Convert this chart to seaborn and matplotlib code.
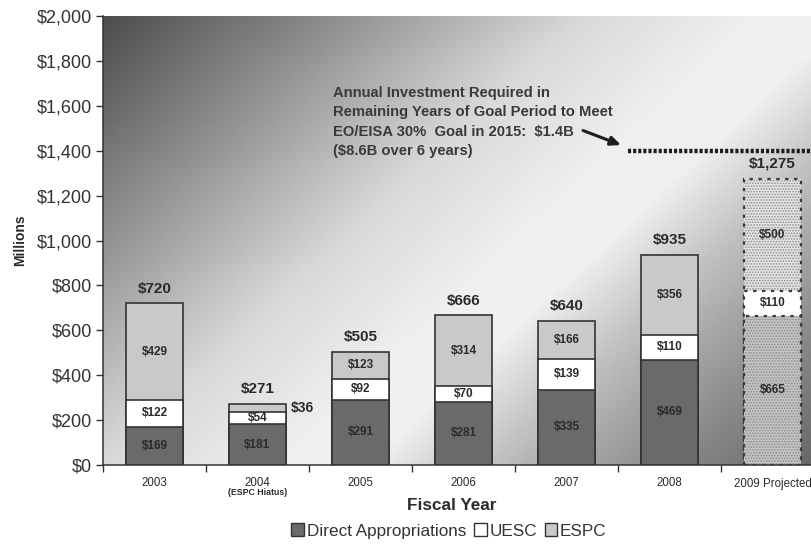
import numpy as np
import pandas as pd
import matplotlib
matplotlib.use("Agg")
import matplotlib.pyplot as plt
import seaborn as sns
from matplotlib.patches import Patch
from matplotlib.colors import to_rgba
from matplotlib.ticker import FuncFormatter
from matplotlib.transforms import blended_transform_factory

# Federal energy-efficiency investment by fiscal year ($ millions)
years = ["2003", "2004", "2005", "2006", "2007", "2008", "2009 Projected"]
direct = [169, 181, 291, 281, 335, 469, 665]
uesc = [122, 54, 92, 70, 139, 110, 110]
espc = [429, 36, 123, 314, 166, 356, 500]
totals = [720, 271, 505, 666, 640, 935, 1275]
goal = 1400
yticks = list(range(0, 2001, 200))
series_names = ["Direct Appropriations", "UESC", "ESPC"]

c_direct = "#6a6a6a"
c_uesc = "#ffffff"
c_espc = "#c9c9c9"
edge = "#333333"
txt = "#2b2b2b"

sns.set_theme(style="white")
plt.rcParams["font.family"] = ["Liberation Sans", "DejaVu Sans"]
plt.rcParams["hatch.linewidth"] = 0.8

fig = plt.figure(figsize=(8.12, 5.46), dpi=100)
fig.patch.set_facecolor("white")
ax = fig.add_axes([103 / 812, 81 / 546, 721 / 812, 449 / 546])
ax.set_facecolor("none")

# diagonal two-way gray gradient behind the plot area
nx, ny = 400, 300
fx = np.linspace(0, 1, nx)[None, :]
fy = np.linspace(0, 1, ny)[:, None]
u = 0.6 * fx + 0.4 * fy
shade = np.interp(u, [0, 0.2, 0.4, 0.55, 0.62, 0.72, 0.8, 0.88, 1.0],
                  [0.30, 0.57, 0.85, 0.94, 0.94, 0.76, 0.64, 0.53, 0.40])
ax.imshow(shade, cmap="gray", vmin=0, vmax=1, extent=[0, 1, 0, 1],
          transform=ax.transAxes, aspect="auto", origin="upper",
          interpolation="bilinear", zorder=0)

df = pd.DataFrame({
    "year": years,
    "total": totals,
    "du": np.add(direct, uesc),
    "direct": direct,
})

# stacked look: draw the full total first, then overlay lower layers
for col, color in [("total", c_espc), ("du", c_uesc), ("direct", c_direct)]:
    sns.barplot(data=df, x="year", y=col, color=color, saturation=1,
                width=0.56, edgecolor=edge, linewidth=1.2, errorbar=None,
                ax=ax, zorder=2)

# projected year: dotted outlines and stippled fills
for cont, fc, hatch in zip(ax.containers,
                           ["#e4e4e4", "#ffffff", "#c4c4c4"],
                           ["......", None, "......"]):
    p = cont.patches[6]
    p.set_facecolor(fc)
    p.set_edgecolor("#3a3a3a")
    p.set_linestyle((0, (1.5, 2.5)))
    p.set_linewidth(1.6)
    if hatch:
        p.set_hatch(hatch)
        p._hatch_color = to_rgba("#8e8e8e")

seg_kw = dict(ha="center", va="center", fontsize=8.5, fontweight="bold",
              color=txt, zorder=5)
for i in range(len(years)):
    d, ue, es, tot = direct[i], uesc[i], espc[i], totals[i]
    ax.text(i, d / 2, f"\\${d}", **seg_kw)
    ax.text(i, d + ue / 2, f"\\${ue}", **seg_kw)
    if i == 1:
        ax.text(i + 0.44, d + ue + es / 2, f"\\${es}",
                ha="center", va="center", fontsize=10, fontweight="bold",
                color=txt, zorder=5)
    else:
        ax.text(i, d + ue + es / 2, f"\\${es}", **seg_kw)
    ax.text(i, tot + 35, f"\\${tot:,}", ha="center", va="bottom",
            fontsize=11, fontweight="bold", color=txt, zorder=5)

# goal line and its note
ax.hlines(goal, 4.6, 6.6, colors="#1e1e1e", linewidth=3.2,
          linestyles=(0, (0.7, 0.45)), zorder=4)
note = ("Annual Investment Required in\n"
        "Remaining Years of Goal Period to Meet\n"
        "EO/EISA 30%  Goal in 2015:  \\$1.4B\n"
        "(\\$8.6B over 6 years)")
ax.text(1.735, 1690, note, ha="left", va="top", fontsize=10.6,
        fontweight="bold", color="#3a3a3a", linespacing=1.5, zorder=5)
ax.annotate("", xy=(4.53, 1425), xytext=(4.16, 1490),
            arrowprops=dict(arrowstyle="-|>,head_length=0.5,head_width=0.22",
                            color="#1e1e1e", lw=2.2, shrinkA=0, shrinkB=0),
            zorder=5)

ax.set_xlim(-0.5, 6.5)
ax.set_ylim(0, 2000)
ax.set_yticks(yticks)
ax.yaxis.set_major_formatter(FuncFormatter(lambda v, _: f"\\${int(v):,}"))
ax.set_xticks(range(len(years)))
ax.set_xticklabels(years)
ax.set_xticks(np.arange(-0.5, len(years), 1), minor=True)
ax.tick_params(axis="x", which="major", length=0, pad=9, labelsize=8.3,
               labelcolor=txt)
ax.tick_params(axis="x", which="minor", length=5, width=1, color="#333333",
               direction="out", bottom=True)
ax.tick_params(axis="y", length=5, width=1, color="#333333", direction="out",
               left=True, pad=3, labelsize=13, labelcolor="#333333")
ax.set_xlabel("")
ax.set_ylabel("")
for side in ["top", "right"]:
    ax.spines[side].set_visible(False)
for side in ["left", "bottom"]:
    ax.spines[side].set_color("#333333")
    ax.spines[side].set_linewidth(1.1)

xt = blended_transform_factory(ax.transData, ax.transAxes)
ax.text(1, -0.062, "(ESPC Hiatus)", transform=xt, ha="center", va="center",
        fontsize=6.3, fontweight="bold", color=txt)

fig.text(452 / 812, 1 - 505 / 546, "Fiscal Year", ha="center", va="center",
         fontsize=12.3, fontweight="bold", color=txt)
fig.text(20 / 812, 1 - 240 / 546, "Millions", ha="center", va="center",
         rotation=90, fontsize=10, fontweight="bold", color=txt)

handles = [Patch(facecolor=c, edgecolor="#333333", linewidth=1)
           for c in [c_direct, c_uesc, c_espc]]
fig.legend(handles, series_names, loc="center",
           bbox_to_anchor=(449 / 812, 1 - 531 / 546), ncol=3, frameon=False,
           fontsize=12.3, handlelength=0.75, handleheight=0.75,
           handletextpad=0.15, columnspacing=0.45, labelcolor="#333333",
           borderaxespad=0, borderpad=0)

fig.savefig("out.png", dpi=100)
